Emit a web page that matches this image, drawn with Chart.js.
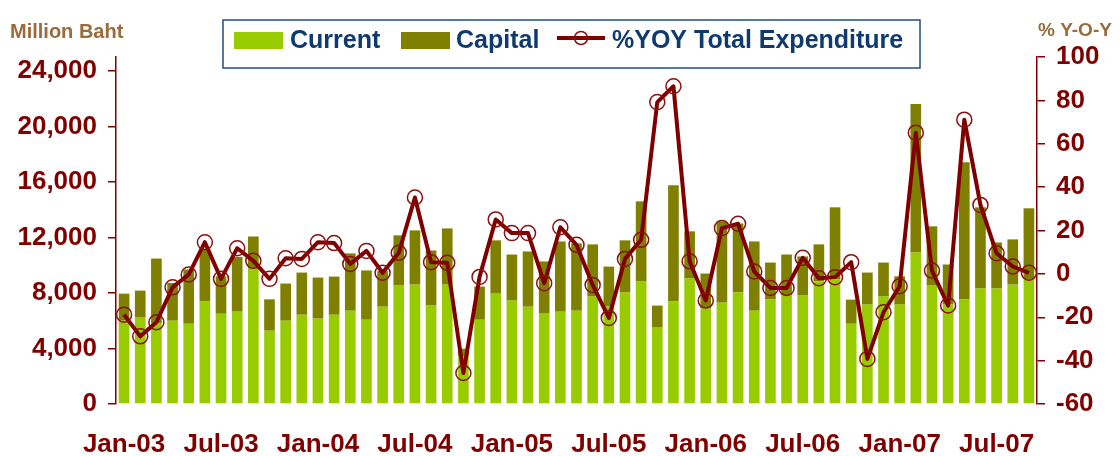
<!DOCTYPE html>
<html lang="en">
<head>
<meta charset="UTF-8">
<title>Government expenditure</title>
<script src="https://cdn.jsdelivr.net/npm/chart.js@4"></script>
<style>
  html, body { margin: 0; padding: 0; background: #fff; }
</style>
</head>
<body>
<canvas id="chart" width="1120" height="456"></canvas>
<script>
const months = [
  'Jan-03','Feb-03','Mar-03','Apr-03','May-03','Jun-03','Jul-03','Aug-03','Sep-03','Oct-03','Nov-03','Dec-03',
  'Jan-04','Feb-04','Mar-04','Apr-04','May-04','Jun-04','Jul-04','Aug-04','Sep-04','Oct-04','Nov-04','Dec-04',
  'Jan-05','Feb-05','Mar-05','Apr-05','May-05','Jun-05','Jul-05','Aug-05','Sep-05','Oct-05','Nov-05','Dec-05',
  'Jan-06','Feb-06','Mar-06','Apr-06','May-06','Jun-06','Jul-06','Aug-06','Sep-06','Oct-06','Nov-06','Dec-06',
  'Jan-07','Feb-07','Mar-07','Apr-07','May-07','Jun-07','Jul-07','Aug-07','Sep-07'
];

// million baht
const current = [
  6000, 6220, 5800, 6000, 5780, 7380, 6500, 6650, 9800, 5280, 6000, 6430,
  6150, 6430, 6720, 6070, 7010, 8530, 8600, 7090, 8600, 3420, 6070, 7950,
  7450, 7010, 6510, 6650, 6720, 7740, 7040, 8030, 8820, 5500, 7380, 9040,
  6900, 7300, 8030, 6720, 7540, 7810, 7810, 8850, 8970, 5780, 7160, 7740,
  7160, 10920, 8530, 7160, 7520, 8320, 8320, 8600, 8970
];
const total = [
  7950, 8170, 10480, 8720, 9690, 11200, 9200, 10600, 12070, 7540, 8680, 9470,
  9110, 9180, 10850, 9620, 9570, 12150, 12510, 11060, 12650, 3980, 8460, 11790,
  10770, 10990, 10270, 11710, 11570, 11500, 9900, 11790, 14600, 7090, 15760, 12440,
  9400, 13160, 13000, 11710, 10190, 10770, 10630, 11500, 14170, 7520, 9470, 10190,
  9200, 21620, 12800, 10050, 17420, 14170, 11640, 11860, 14100
];
const capital = total.map((t, i) => t - current[i]);

// % y-o-y total expenditure
const yoy = [
  -18.8, -28.8, -22.3, -6.2, -0.3, 14.6, -2.3, 11.8, 6.0, -2.3, 7.2, 6.9,
  14.6, 14.2, 4.6, 10.6, 0.5, 9.7, 35.2, 5.4, 5.1, -45.7, -1.4, 25.1,
  18.8, 18.8, -4.3, 21.5, 13.4, -5.1, -20.3, 6.9, 15.7, 79.2, 86.5, 5.8,
  -12.3, 21.1, 23.1, 1.1, -6.5, -6.5, 7.4, -2.0, -1.5, 5.4, -39.2, -17.7,
  -5.7, 65.1, 1.5, -14.6, 71.1, 31.8, 9.5, 3.4, 0.5
];

const leftTicks = [0, 4000, 8000, 12000, 16000, 20000, 24000];
const rightTicks = [-60, -40, -20, 0, 20, 40, 60, 80, 100];

const FONT = "'Liberation Sans', Arial, sans-serif";
const RED = '#800000';
const GREEN = '#99cc00';
const OLIVE = '#808000';
const NAVY = '#0e3a70';
const BROWN = '#9b6b3b';

// legend box + the two axis captions
const decor = {
  id: 'decor',
  afterDraw(chart) {
    const c = chart.ctx;
    c.save();
    c.fillStyle = BROWN;
    c.textBaseline = 'alphabetic';
    c.textAlign = 'left';
    c.font = 'bold 20px ' + FONT;
    c.fillText('Million Baht', 10, 38);
    c.font = 'bold 19px ' + FONT;
    c.fillText('% Y-O-Y', 1038, 36);

    c.strokeStyle = '#1f4e79';
    c.lineWidth = 1.5;
    c.fillStyle = '#fff';
    c.fillRect(223, 20, 697, 48);
    c.strokeRect(223, 20, 697, 48);

    c.fillStyle = GREEN;
    c.fillRect(234, 32, 49, 17);
    c.fillStyle = OLIVE;
    c.fillRect(401, 32, 49, 17);

    c.strokeStyle = RED;
    c.lineWidth = 4;
    c.beginPath();
    c.moveTo(557, 38);
    c.lineTo(605, 38);
    c.stroke();
    c.lineWidth = 1.5;
    c.strokeStyle = '#8b1010';
    c.beginPath();
    c.arc(581, 38, 6.5, 0, Math.PI * 2);
    c.stroke();

    c.font = 'bold 25px ' + FONT;
    c.fillStyle = NAVY;
    c.fillText('Current', 290, 48);
    c.fillText('Capital', 456, 48);
    c.fillText('%YOY Total Expenditure', 612, 48);
    c.restore();
  }
};

const tickFont = { family: FONT, size: 26, weight: 'bold' };

new Chart(document.getElementById('chart'), {
  type: 'bar',
  data: {
    labels: months,
    datasets: [
      {
        type: 'line',
        label: '%YOY Total Expenditure',
        data: yoy,
        yAxisID: 'y1',
        borderColor: RED,
        borderWidth: 4,
        borderJoinStyle: 'round',
        tension: 0,
        pointRadius: 7.5,
        pointBorderWidth: 1.5,
        pointBorderColor: '#8b1010',
        pointBackgroundColor: 'rgba(0,0,0,0)',
        order: 0
      },
      {
        label: 'Current',
        data: current,
        backgroundColor: GREEN,
        yAxisID: 'y',
        stack: 's',
        barPercentage: 0.66,
        categoryPercentage: 1,
        order: 1
      },
      {
        label: 'Capital',
        data: capital,
        backgroundColor: OLIVE,
        yAxisID: 'y',
        stack: 's',
        barPercentage: 0.66,
        categoryPercentage: 1,
        order: 1
      }
    ]
  },
  options: {
    responsive: false,
    animation: false,
    devicePixelRatio: 1,
    layout: { padding: { top: 57, left: 0, right: 0, bottom: 0 } },
    plugins: {
      legend: { display: false },
      tooltip: { enabled: false }
    },
    scales: {
      x: {
        stacked: true,
        grid: { display: false, drawTicks: false },
        border: { display: false },
        ticks: {
          autoSkip: false,
          maxRotation: 0,
          minRotation: 0,
          padding: 25,
          color: RED,
          font: tickFont,
          callback: (v, i) => (i % 6 === 0 ? months[i] : '')
        },
        afterFit: s => { s.height = 52; }
      },
      y: {
        stacked: true,
        position: 'left',
        min: 0,
        max: 25000,
        ticks: {
          autoSkip: false,
          padding: 11,
          color: RED,
          font: tickFont,
          callback: v => v.toLocaleString('en-US')
        },
        afterBuildTicks: s => { s.ticks = leftTicks.map(v => ({ value: v })); },
        grid: { drawOnChartArea: false, drawTicks: true, tickLength: 8, color: RED, lineWidth: 1.5 },
        border: { color: RED, width: 1.5 },
        afterFit: s => { s.width = 116; }
      },
      y1: {
        position: 'right',
        min: -60,
        max: 100,
        ticks: {
          autoSkip: false,
          padding: 11,
          color: RED,
          font: tickFont
        },
        afterBuildTicks: s => { s.ticks = rightTicks.map(v => ({ value: v })); },
        grid: { drawOnChartArea: false, drawTicks: true, tickLength: 8, color: RED, lineWidth: 1.5 },
        border: { color: RED, width: 1.5 },
        afterFit: s => { s.width = 83; }
      }
    }
  },
  plugins: [decor]
});
</script>
</body>
</html>
